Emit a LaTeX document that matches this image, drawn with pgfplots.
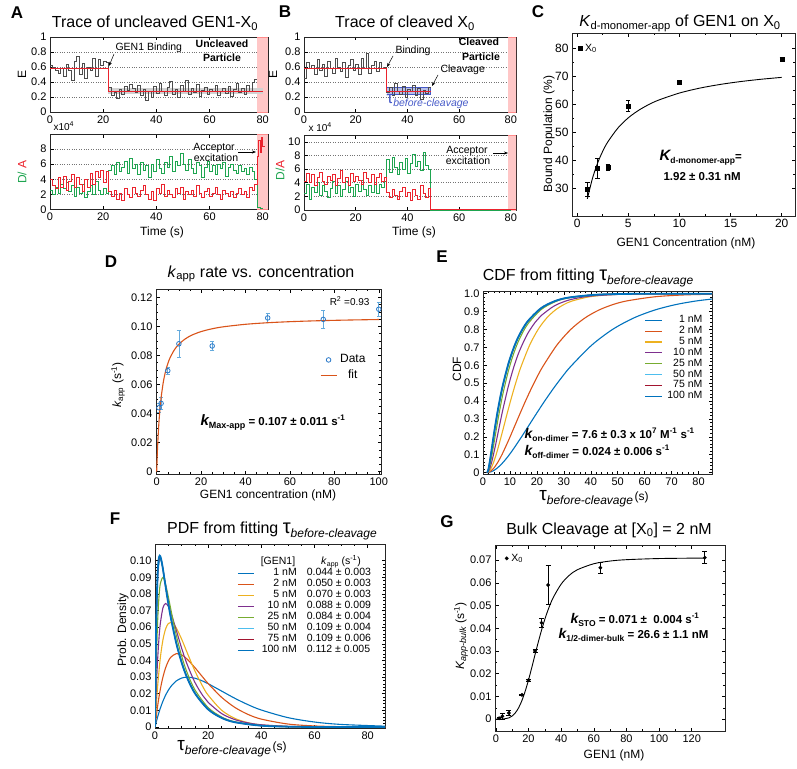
\documentclass[border=0pt]{standalone}
\usepackage{pgfplots}
\pgfplotsset{compat=1.18}
\usepackage{fontspec}
\setmainfont{Liberation Sans}
\usetikzlibrary{arrows.meta}
\definecolor{mblue}{rgb}{0,0.447,0.741}
\definecolor{morange}{rgb}{0.85,0.325,0.098}
\definecolor{myellow}{rgb}{0.929,0.694,0.125}
\definecolor{mpurple}{rgb}{0.494,0.184,0.556}
\definecolor{mgreen}{rgb}{0.466,0.674,0.188}
\definecolor{mcyan}{rgb}{0.301,0.745,0.933}
\definecolor{mdred}{rgb}{0.635,0.078,0.184}
\definecolor{trgreen}{RGB}{30,165,80}
\definecolor{trred}{RGB}{235,35,45}
\definecolor{taublue}{RGB}{70,90,200}
\definecolor{errblue}{RGB}{100,170,220}
\definecolor{ptblue}{RGB}{40,120,200}
\newcommand{\fsz}[1]{\fontsize{#1}{#1}\selectfont}
\pgfplotsset{
  mybase/.style={
    scale only axis, anchor=south west, clip=true,
    axis line style={line width=0.6pt, black!85},
    tick style={line width=0.5pt, black},
    major tick length=3.5pt, minor tick length=2pt,
    tick align=inside,
    scaled ticks=false,
    tick label style={font=\fsz{11}},
    /pgf/number format/assume math mode=true,
    legend style={draw=none, fill=none, inner sep=0pt, outer sep=0pt},
  },
  trace/.style={mybase, ymajorgrids, grid style={dotted, black!55, line width=0.5pt}, xtick={0,20,40,60,80}, xmin=0, xmax=82},
  frame/.style={mybase, minor x tick num=3, minor y tick num=3},
}
\begin{document}
\begin{tikzpicture}
\useasboundingbox (0pt,0pt) rectangle (797pt,-768pt);

% ================= A top
\begin{axis}[trace, at={(50pt,-112pt)}, width=218pt, height=75pt, ymin=0, ymax=1, ytick={0,0.2,0.4,0.6,0.8,1}, yticklabels={0,0.2,0.4,0.6,0.8,1}]
\addplot[fill=red!22, draw=red!45] coordinates {(78,0)(82,0)(82,1)(78,1)};
\addplot[fill=gray!35, draw=none] coordinates {(22,0.245)(80,0.245)(80,0.315)(22,0.315)};
\addplot[const plot, color=black!70, line width=0.6pt] coordinates {
(0,0.62)(1,0.60)(2,0.55)(3,0.52)(4,0.58)(5,0.47)(6,0.64)(7,0.55)(8,0.42)(9,0.68)(10,0.74)(11,0.50)(12,0.65)(13,0.45)(14,0.60)(15,0.56)(16,0.72)(17,0.48)(18,0.70)(19,0.62)(20,0.68)(21,0.66)
(22,0.33)(23,0.22)(24,0.26)(25,0.18)(26,0.30)(27,0.24)(28,0.34)(29,0.29)(30,0.37)(31,0.31)
(32,0.26)(33,0.35)(34,0.22)(35,0.30)(36,0.15)(37,0.28)(38,0.20)(39,0.34)(40,0.25)(41,0.38)
(42,0.27)(43,0.22)(44,0.33)(45,0.41)(46,0.24)(47,0.30)(48,0.19)(49,0.36)(50,0.27)(51,0.42)
(52,0.23)(53,0.31)(54,0.26)(55,0.37)(56,0.21)(57,0.29)(58,0.33)(59,0.24)(60,0.30)(61,0.27)
(62,0.35)(63,0.22)(64,0.28)(65,0.32)(66,0.25)(67,0.34)(68,0.21)(69,0.30)(70,0.38)(71,0.26)
(72,0.31)(73,0.23)(74,0.35)(75,0.28)(76,0.40)(77,0.44)(78,0.44)};
\addplot[trred, line width=0.9pt] coordinates {(0,0.58)(22,0.58)(22,0.28)(80,0.28)};
\end{axis}

% ================= A bottom
\begin{axis}[trace, at={(50pt,-209.5pt)}, width=218pt, height=75.5pt, ymin=0, ymax=10, ytick={0,2,4,6,8}]
\addplot[fill=red!22, draw=red!45] coordinates {(78,0)(82,0)(82,10)(78,10)};
\addplot[const plot, trgreen, line width=0.6pt] coordinates {
(0,2.5)(1,2.0)(2,3.0)(3,2.2)(4,3.4)(5,2.8)(6,3.6)(7,2.4)(8,3.2)(9,1.8)(10,3.0)(11,2.2)(12,3.4)(13,1.6)(14,2.4)(15,3.2)(16,2.0)(17,3.8)(18,2.6)(19,2.0)(20,2.8)(21,2.2)
(22,5.2)(23,5.8)(24,4.6)(25,6.2)(26,5.0)(27,5.6)(28,6.4)(29,4.8)(30,6.8)(31,5.4)
(32,6.0)(33,4.6)(34,6.2)(35,5.2)(36,5.8)(37,4.2)(38,6.0)(39,5.0)(40,6.6)(41,5.4)
(42,4.8)(43,6.2)(44,5.6)(45,7.0)(46,5.0)(47,6.4)(48,5.8)(49,7.4)(50,6.0)(51,5.2)
(52,6.6)(53,5.4)(54,4.8)(55,6.2)(56,5.8)(57,4.2)(58,5.6)(59,6.4)(60,5.0)(61,5.8)
(62,4.6)(63,6.0)(64,5.4)(65,6.2)(66,4.4)(67,5.6)(68,6.0)(69,5.2)(70,4.8)(71,5.8)
(72,5.0)(73,5.4)(74,4.6)(75,5.6)(76,5.0)(77,4.0)(78,0.3)(79,0.1)(80,0.1)};
\addplot[const plot, trred, line width=0.6pt] coordinates {
(0,4.0)(1,3.2)(2,2.8)(3,4.2)(4,3.0)(5,4.4)(6,2.6)(7,3.8)(8,4.6)(9,3.0)(10,4.2)(11,3.4)(12,2.4)(13,4.0)(14,3.0)(15,4.8)(16,3.4)(17,5.0)(18,4.2)(19,5.2)(20,3.6)(21,5.0)
(22,2.4)(23,1.8)(24,2.6)(25,1.4)(26,2.2)(27,1.2)(28,2.8)(29,2.0)(30,1.6)(31,3.0)
(32,2.2)(33,1.8)(34,2.6)(35,3.2)(36,2.0)(37,1.4)(38,2.4)(39,1.2)(40,2.8)(41,2.2)
(42,3.4)(43,1.8)(44,2.6)(45,2.0)(46,1.6)(47,2.8)(48,2.2)(49,3.0)(50,1.4)(51,2.4)
(52,2.0)(53,2.6)(54,1.8)(55,3.2)(56,2.2)(57,1.6)(58,2.4)(59,2.8)(60,1.8)(61,2.2)
(62,3.0)(63,2.0)(64,1.4)(65,2.6)(66,2.2)(67,1.8)(68,2.4)(69,1.6)(70,2.2)(71,2.8)
(72,2.0)(73,2.4)(74,1.6)(75,3.0)(76,2.6)(77,3.4)(78,7.0)(78.5,9.2)(79,7.6)(79.5,9.6)(80,8.4)(81,8.4)};
\end{axis}

% ================= B top
\begin{axis}[trace, at={(304pt,-112pt)}, width=212pt, height=75pt, ymin=0, ymax=1, ytick={0,0.2,0.4,0.6,0.8,1}, yticklabels={0,0.2,0.4,0.6,0.8,1}]
\addplot[fill=red!22, draw=red!45] coordinates {(79,0)(82,0)(82,1)(79,1)};
\addplot[fill=taublue!55, draw=taublue, fill opacity=0.7] coordinates {(32,0.24)(49,0.24)(49,0.33)(32,0.33)};
\addplot[const plot, color=black!70, line width=0.6pt] coordinates {
(0,0.45)(1,0.66)(2,0.58)(3,0.62)(4,0.50)(5,0.70)(6,0.55)(7,0.64)(8,0.48)(9,0.68)
(10,0.58)(11,0.52)(12,0.72)(13,0.60)(14,0.54)(15,0.66)(16,0.46)(17,0.62)(18,0.70)(19,0.56)
(20,0.64)(21,0.50)(22,0.72)(23,0.58)(24,0.78)(25,0.52)(26,0.62)(27,0.68)(28,0.54)(29,0.66)
(30,0.58)(31,0.60)
(32,0.26)(33,0.33)(34,0.22)(35,0.38)(36,0.28)(37,0.24)(38,0.34)(39,0.20)(40,0.30)(41,0.27)(42,0.36)(43,0.22)(44,0.31)(45,0.17)(46,0.29)(47,0.25)(48,0.33)(49,0.33)};
\addplot[trred, line width=0.9pt] coordinates {(0,0.575)(32,0.575)(32,0.275)(49,0.275)};
\end{axis}

% ================= B bottom
\begin{axis}[trace, at={(304pt,-210.7pt)}, width=212pt, height=75.7pt, ymin=-0.1, ymax=11, ytick={0,2,4,6,8,10}]
\addplot[fill=red!22, draw=red!45] coordinates {(79,-0.1)(82,-0.1)(82,11)(79,11)};
\addplot[const plot, trgreen, line width=0.6pt] coordinates {
(0,2.4)(1,3.8)(2,1.6)(3,3.4)(4,2.6)(5,4.0)(6,2.2)(7,3.6)(8,2.8)(9,1.8)
(10,3.2)(11,4.2)(12,2.4)(13,3.6)(14,2.0)(15,3.0)(16,4.2)(17,2.6)(18,3.4)(19,2.0)
(20,3.8)(21,2.8)(22,4.4)(23,3.0)(24,2.2)(25,3.6)(26,2.6)(27,4.0)(28,2.4)(29,3.8)
(30,3.4)(31,4.2)
(32,7.4)(33,5.6)(34,7.8)(35,6.2)(36,5.2)(37,7.0)(38,6.0)(39,7.6)(40,5.4)(41,6.8)(42,8.2)(43,6.4)(44,7.2)(45,5.8)(46,8.4)(47,6.6)(48,6.0)(49,0)(80,0)};
\addplot[const plot, trred, line width=0.6pt] coordinates {
(0,4.2)(1,5.4)(2,4.0)(3,5.2)(4,3.6)(5,4.8)(6,5.6)(7,4.2)(8,3.8)(9,5.0)
(10,4.4)(11,5.2)(12,3.6)(13,4.6)(14,5.8)(15,4.0)(16,4.8)(17,3.6)(18,5.4)(19,4.2)
(20,5.0)(21,4.4)(22,3.8)(23,5.6)(24,4.6)(25,4.0)(26,5.2)(27,3.8)(28,4.8)(29,5.4)
(30,4.2)(31,4.8)
(32,2.6)(33,1.8)(34,3.0)(35,2.2)(36,1.6)(37,2.8)(38,3.4)(39,2.0)(40,2.6)(41,1.4)(42,3.0)(43,2.2)(44,1.6)(45,3.6)(46,2.4)(47,1.8)(48,3.2)(49,0.08)(82,0.08)};
\end{axis}

% ================= C
\begin{axis}[mybase, at={(572pt,-216pt)}, width=223pt, height=183pt, xmin=-0.5, xmax=21.3, ymin=20, ymax=85.5,
  xtick={0,5,10,15,20}, ytick={30,40,50,60,70,80}, minor x tick num=1, minor y tick num=1,
  tick label style={font=\fsz{12}},
  legend style={at={(0.027,0.951)}, anchor=north west, font=\fsz{10.5}, column sep=1pt},
  legend image code/.code={\draw[mark repeat=2,mark phase=2,#1] plot coordinates {(0pt,0pt)(6pt,0pt)(12pt,0pt)};}]
\addplot[only marks, mark=square*, mark size=2pt, black,
  error bars/.cd, y dir=both, y explicit, error bar style={line width=0.7pt, black}, error mark options={rotate=90, mark size=2.2pt, line width=0.7pt, black}]
  coordinates {(1,29.5) +- (0,2.5) (2,37) +- (0,3.5) (3,37.5) +- (0,1) (5,59.3) +- (0,2) (10,67.8) +- (0,0.8) (20,76.3) +- (0,0.5)};
\addlegendentry{X\textsubscript{0}}
\addplot[black, line width=0.9pt, smooth, forget plot] coordinates {(1,26.13)(1.5,33.46)(2,38.93)(2.5,43.16)(3,46.52)(4,51.55)(5,55.13)(6,57.80)(7,59.88)(8,61.53)(10,64.01)(12,65.78)(14,67.10)(16,68.13)(18,68.95)(20,69.62)};
\end{axis}

% ================= D
\begin{axis}[frame, at={(156pt,-474pt)}, width=225pt, height=185pt, xmin=-0.3, xmax=101, ymin=-0.0016, ymax=0.1257,
  xtick={0,20,40,60,80,100}, ytick={0,0.02,0.04,0.06,0.08,0.10,0.12}, yticklabels={0,0.02,0.04,0.06,0.08,0.10,0.12},
  legend style={at={(0.729,0.649)}, anchor=north west, font=\fsz{12}, column sep=3pt, row sep=4pt, nodes={inner sep=0pt, text height=9pt, text depth=3pt}},
  legend image code/.code={\draw[mark repeat=2,mark phase=2,#1] plot coordinates {(0pt,0pt)(8pt,0pt)(16pt,0pt)};}]
\addplot[only marks, mark=o, mark size=2.3pt, color=ptblue, mark options={line width=0.8pt},
  error bars/.cd, y dir=both, y explicit, error bar style={errblue, line width=0.7pt}, error mark options={rotate=90, errblue, mark size=2.2pt, line width=0.7pt}]
  coordinates {(1,0.044) +- (0,0.003) (2,0.047) +- (0,0.004) (5,0.0695) +- (0,0.0025) (10,0.088) +- (0,0.0095) (25,0.0865) +- (0,0.003) (50,0.1058) +- (0,0.003) (75,0.1048) +- (0,0.006) (100,0.1118) +- (0,0.005)};
\addlegendentry{Data}
\addplot[morange, line width=1.1pt, smooth] coordinates {(0,0)(0.25,0.01092)(0.5,0.01981)(1,0.03344)(1.5,0.04338)(2,0.05095)(3,0.06173)(4,0.06903)(5,0.07431)(6,0.07829)(8,0.08392)(10,0.0877)(13,0.09151)(16,0.09407)(20,0.0964)(25,0.09835)(30,0.09969)(40,0.10142)(50,0.10249)(60,0.10322)(70,0.10374)(80,0.10414)(90,0.10445)(100,0.1047)};
\addlegendentry{fit}
\end{axis}

% ================= E
\begin{axis}[mybase, at={(483pt,-474pt)}, width=229pt, height=183pt, xmin=0, xmax=85, ymin=-0.008, ymax=1.015,
  xtick={0,10,20,30,40,50,60,70,80}, ytick={0,0.1,0.2,0.3,0.4,0.5,0.6,0.7,0.8,0.9,1.0}, yticklabels={0,0.1,0.2,0.3,0.4,0.5,0.6,0.7,0.8,0.9,1.0},
  minor x tick num=4, minor y tick num=4,
  legend style={at={(0.958,0.87)}, anchor=north east, font=\fsz{10.5}, column sep=4pt, nodes={inner sep=0pt, text height=7.8pt, text depth=3.1pt}},
  legend cell align=right,
  legend image code/.code={\draw[#1] (0pt,0pt) -- (17pt,0pt);}]
\addplot[mblue, line width=1.1pt, smooth] coordinates {(1.5,0)(3.06,0.00468)(4.61,0.01752)(6.17,0.03694)(7.72,0.06155)(9.28,0.0902)(10.83,0.1219)(13.94,0.1912)(17.05,0.2642)(20.16,0.3374)(23.27,0.4082)(26.38,0.4751)(29.49,0.5372)(32.60,0.5940)(40.38,0.7127)(48.16,0.8009)(55.93,0.8641)(63.71,0.9084)(71.48,0.9389)(79.26,0.9596)(87.04,0.9734)};
\addlegendentry{1 nM}
\addplot[morange, line width=1.1pt, smooth] coordinates {(1.5,0)(2.54,0.00468)(3.57,0.01752)(4.61,0.03694)(5.65,0.06155)(6.69,0.0902)(7.72,0.1219)(9.80,0.1912)(11.87,0.2642)(13.95,0.3374)(16.02,0.4082)(18.10,0.4751)(20.17,0.5372)(22.25,0.5940)(27.43,0.7127)(32.62,0.8009)(37.81,0.8641)(42.99,0.9084)(48.18,0.9389)(53.37,0.9596)(63.74,0.9826)(74.11,0.9927)(84.48,0.9970)(90,0.9985)};
\addlegendentry{2 nM}
\addplot[myellow, line width=1.1pt, smooth] coordinates {(1.5,0)(2.13,0.00468)(2.77,0.01752)(3.40,0.03694)(4.03,0.06155)(4.66,0.0902)(5.30,0.1219)(6.56,0.1912)(7.83,0.2642)(9.09,0.3374)(10.36,0.4082)(11.63,0.4751)(12.89,0.5372)(14.16,0.5940)(17.32,0.7127)(20.49,0.8009)(23.65,0.8641)(26.82,0.9084)(29.98,0.9389)(33.15,0.9596)(39.47,0.9826)(45.80,0.9927)(52.13,0.9970)(64.79,0.9995)(87,1.0)};
\addlegendentry{5 nM}
\addplot[mpurple, line width=1.1pt, smooth] coordinates {(1.5,0)(2.0,0.00615)(2.5,0.02243)(3.0,0.04614)(3.5,0.07516)(4.5,0.1429)(5.5,0.2163)(6.5,0.2900)(7.5,0.3607)(9.5,0.4878)(11.5,0.5933)(13.5,0.6786)(16.5,0.7750)(19.5,0.8428)(21.5,0.8763)(26.5,0.9321)(31.5,0.9627)(36.5,0.9796)(41.5,0.9888)(51.5,0.99662)(61.5,0.99898)(86.5,0.99995)};
\addlegendentry{10 nM}
\addplot[mgreen, line width=1.1pt, smooth] coordinates {(1.5,0)(2.0,0.01057)(2.5,0.03683)(3.0,0.07271)(3.5,0.1141)(4.5,0.2031)(5.5,0.2913)(6.5,0.3734)(7.5,0.4478)(9.5,0.5730)(11.5,0.6705)(13.5,0.7458)(16.5,0.8279)(21.5,0.9102)(26.5,0.9531)(31.5,0.9755)(41.5,0.9933)(51.5,0.99818)(61.5,0.9995)(86.5,1.0)};
\addlegendentry{25 nM}
\addplot[mcyan, line width=1.1pt, smooth] coordinates {(1.5,0)(1.75,0.0047)(2.0,0.01683)(2.5,0.05461)(3.0,0.1016)(3.5,0.1515)(4.0,0.2015)(4.5,0.2500)(5.5,0.3400)(6.5,0.4201)(7.5,0.4907)(9.5,0.6073)(11.5,0.6972)(13.5,0.7665)(16.5,0.8419)(21.5,0.9175)(26.5,0.9569)(31.5,0.9775)(41.5,0.99387)(51.5,0.99833)(61.5,0.99954)(86.5,1.0)};
\addlegendentry{50 nM}
\addplot[mdred, line width=1.1pt, smooth] coordinates {(1.5,0)(1.75,0.00502)(2.0,0.01785)(2.5,0.05726)(3.0,0.1055)(3.5,0.1562)(4.0,0.2066)(4.5,0.2552)(5.5,0.3450)(6.5,0.4246)(7.5,0.4947)(9.5,0.6104)(11.5,0.6996)(13.5,0.7683)(16.5,0.8432)(21.5,0.9181)(26.5,0.9573)(31.5,0.9777)(41.5,0.99392)(51.5,0.99834)(61.5,0.99955)(86.5,1.0)};
\addlegendentry{75 nM}
\addplot[mblue, line width=1.8pt, smooth] coordinates {(1.5,0)(1.75,0.00534)(2.0,0.01884)(2.5,0.05975)(3.0,0.1091)(3.5,0.1605)(4.0,0.2111)(4.5,0.2597)(5.5,0.3493)(6.5,0.4285)(7.5,0.4981)(9.5,0.6130)(11.5,0.7016)(13.5,0.7699)(16.5,0.8442)(21.5,0.9187)(26.5,0.9575)(31.5,0.9778)(41.5,0.99396)(51.5,0.99835)(61.5,0.99955)(86.5,1.0)};
\addlegendentry{100 nM}
\end{axis}

% ================= F
\begin{axis}[mybase, at={(155pt,-728pt)}, width=230pt, height=184pt, xmin=0, xmax=86.5, ymin=-0.0006, ymax=0.110,
  xtick={0,20,40,60,80}, ytick={0,0.01,0.02,0.03,0.04,0.05,0.06,0.07,0.08,0.09,0.10}, yticklabels={0,0.01,0.02,0.03,0.04,0.05,0.06,0.07,0.08,0.09,0.10},
  minor x tick num=3, minor y tick num=4,
  legend style={at={(0.3565,0.872)}, anchor=north west, font=\fsz{10.5}, column sep=6pt, nodes={inner sep=0pt, text height=7.9pt, text depth=3.15pt}},
  legend cell align=left,
  legend image code/.code={\draw[#1] (0pt,0pt) -- (16pt,0pt);}]
\addplot[mblue, line width=1.1pt, smooth] coordinates {(0,0)(1,0.006122)(2,0.011286)(3,0.015604)(4,0.019177)(5,0.022096)(6,0.024439)(8,0.027684)(10,0.0294)(12,0.029974)(15,0.02934)(18,0.027572)(20,0.026027)(25,0.021645)(30,0.017281)(35,0.013414)(40,0.010199)(50,0.005643)(60,0.002997)(70,0.001548)(87,0.00048)};
\addlegendentry{\makebox[36pt][r]{1 nM}\hspace{10pt}0.044 ± 0.003}
\addplot[morange, line width=1.1pt, smooth] coordinates {(0,0)(1,0.012772)(2,0.022655)(3,0.03014)(4,0.035642)(5,0.039514)(6,0.042055)(8,0.044109)(10,0.043371)(12,0.040942)(15,0.035705)(18,0.029894)(20,0.026127)(25,0.017923)(30,0.011804)(35,0.007558)(40,0.00474)(50,0.001785)(60,0.000645)(70,0.000227)(87,0.00004)};
\addlegendentry{\makebox[36pt][r]{2 nM}\hspace{10pt}0.050 ± 0.003}
\addplot[myellow, line width=1.1pt, smooth] coordinates {(0,0)(0.5,0.013422)(1,0.024645)(2,0.041543)(3,0.05252)(4,0.05902)(5,0.06218)(6,0.062887)(7,0.061836)(8,0.059563)(10,0.052888)(12,0.045083)(15,0.033738)(18,0.024238)(20,0.019131)(25,0.01017)(30,0.00519)(35,0.002575)(40,0.001252)(50,0.000283)(60,0.0000614)(87,0)};
\addlegendentry{\makebox[36pt][r]{5 nM}\hspace{10pt}0.070 ± 0.003}
\addplot[mpurple, line width=1.1pt, smooth] coordinates {(0,0)(0.5,0.023439)(1,0.040793)(1.5,0.053363)(2,0.062192)(3,0.071745)(4,0.074206)(5,0.072558)(6,0.068652)(8,0.058184)(10,0.047468)(12,0.038031)(15,0.026858)(18,0.018823)(20,0.014825)(25,0.008145)(30,0.004471)(35,0.002454)(40,0.001347)(50,0.000406)(60,0.000122)(87,0.000004)};
\addlegendentry{\makebox[36pt][r]{10 nM}\hspace{10pt}0.088 ± 0.009}
\addplot[mgreen, line width=1.1pt, smooth] coordinates {(0,0)(0.5,0.039278)(1,0.063804)(1.5,0.078343)(2,0.086165)(3,0.089898)(4,0.085663)(5,0.078398)(6,0.070342)(8,0.055193)(10,0.042771)(12,0.033027)(15,0.022371)(20,0.01168)(25,0.006098)(30,0.003183)(40,0.000868)(50,0.000236)(60,0.0000644)(87,0)};
\addlegendentry{\makebox[36pt][r]{25 nM}\hspace{10pt}0.084 ± 0.004}
\addplot[mcyan, line width=1.1pt, smooth] coordinates {(0,0)(0.25,0.03546)(0.5,0.059946)(1,0.087471)(1.5,0.098303)(2,0.100646)(2.5,0.098765)(3,0.094874)(4,0.085078)(5,0.07519)(6,0.066155)(8,0.051049)(10,0.039366)(12,0.030354)(15,0.02055)(20,0.010728)(25,0.005601)(30,0.002924)(40,0.000797)(50,0.000217)(60,0.0000592)(87,0)};
\addlegendentry{\makebox[36pt][r]{50 nM}\hspace{10pt}0.109 ± 0.004}
\addplot[mdred, line width=1.1pt, smooth] coordinates {(0,0)(0.25,0.037737)(0.5,0.063123)(1,0.090498)(1.5,0.100368)(2,0.101782)(2.5,0.099216)(3,0.094878)(4,0.084668)(5,0.074683)(6,0.065662)(8,0.050652)(10,0.039056)(12,0.030115)(15,0.020388)(20,0.010644)(25,0.005557)(30,0.002901)(40,0.000791)(50,0.000215)(60,0.0000587)(87,0)};
\addlegendentry{\makebox[36pt][r]{75 nM}\hspace{10pt}0.109 ± 0.006}
\addplot[mblue, line width=1.8pt, smooth] coordinates {(0,0)(0.25,0.039958)(0.5,0.066142)(1,0.093226)(1.5,0.102116)(2,0.102661)(2.5,0.099494)(3,0.094789)(4,0.084268)(5,0.074228)(6,0.065231)(8,0.050308)(10,0.038791)(12,0.029911)(15,0.02025)(20,0.010572)(25,0.005519)(30,0.002881)(40,0.000785)(50,0.000214)(60,0.0000583)(87,0)};
\addlegendentry{\makebox[36pt][r]{100 nM}\hspace{10pt}0.112 ± 0.005}
\end{axis}

% ================= G
\begin{axis}[mybase, at={(495pt,-731pt)}, width=230pt, height=186pt, xmin=-0.5, xmax=140.4, ymin=-0.0052, ymax=0.0766,
  xtick={0,20,40,60,80,100,120}, ytick={0,0.01,0.02,0.03,0.04,0.05,0.06,0.07}, yticklabels={0,0.01,0.02,0.03,0.04,0.05,0.06,0.07},
  minor x tick num=1, minor y tick num=1,
  legend style={at={(0.0435,0.962)}, anchor=north west, font=\fsz{10.5}, column sep=1pt},
  legend image code/.code={\draw[mark repeat=2,mark phase=2,#1] plot coordinates {(0pt,0pt)(6pt,0pt)(12pt,0pt)};}]
\addplot[only marks, mark=*, mark size=1.7pt, black,
  error bars/.cd, y dir=both, y explicit, error bar style={line width=0.7pt, black}, error mark options={rotate=90, mark size=2.5pt, line width=0.7pt, black}]
  coordinates {(2,0.0004) +- (0,0.0004) (4,0.0013) +- (0,0.0012) (8,0.0027) +- (0,0.0011) (16,0.0107) +- (0,0.0004) (20,0.0172) +- (0,0.0005) (24,0.0300) +- (0,0.0008) (28,0.0424) +- (0,0.0021) (32,0.059) +- (0,0.0087) (64,0.0666) +- (0,0.0025) (128,0.0710) +- (0,0.0026)};
\addlegendentry{X\textsubscript{0}}
\addplot[black, line width=0.9pt, smooth, forget plot] coordinates {(0,0)(4,0.0000363)(8,0.000576)(10,0.00139)(12,0.002824)(14,0.00506)(16,0.008218)(18,0.012307)(20,0.017195)(22,0.022632)(24,0.028299)(26,0.03388)(28,0.039129)(30,0.043881)(32,0.048056)(35,0.053239)(40,0.059386)(45,0.063275)(50,0.065735)(60,0.068359)(70,0.06955)(80,0.070143)(100,0.070646)(128,0.070868)};
\end{axis}

% ================= text
\begin{scope}[x=1pt,y=-1pt]
\foreach \l/\x/\y in {A/17/13, B/285/12, C/538/12, D/111/262, E/442/257, F/115/519, G/447/522}
  \node[font=\fsz{17}\bfseries] at (\x,\y) {\l};
\node[anchor=base, font=\fsz{16}] at (155,28) {Trace of uncleaved GEN1-X\textsubscript{0}};
\node[anchor=base, font=\fsz{16}] at (405,28) {Trace of cleaved X\textsubscript{0}};
\node[anchor=base, font=\fsz{16}] at (680,27) {\textit{K}\textsubscript{d-monomer-app} of GEN1 on X\textsubscript{0}};
\node[anchor=base, font=\fsz{16}] at (261,277) {\textit{k}\textsubscript{app} rate vs. concentration};
\node[anchor=base, font=\fsz{16}] at (588,280) {CDF from fitting {\fsz{20}τ}\raisebox{-4pt}{\fsz{12}\itshape before-cleavage}};
\node[anchor=base, font=\fsz{16}] at (272,533) {PDF from fitting {\fsz{20}τ}\raisebox{-4pt}{\fsz{12}\itshape before-cleavage}};
\node[anchor=base, font=\fsz{16}] at (609,534) {Bulk Cleavage at [X\textsubscript{0}] = 2 nM};
\node[anchor=base, font=\fsz{12}] at (162,235) {Time (s)};
\node[anchor=base, font=\fsz{12}] at (414,235) {Time (s)};
\node[rotate=90, font=\fsz{12}] at (22,74) {E};
\node[rotate=90, font=\fsz{12}] at (22,172) {\textcolor{trgreen}{D/} \textcolor{trred}{A}};
\node[rotate=90, font=\fsz{12}] at (273,74) {E};
\node[rotate=90, font=\fsz{12}] at (280,170) {\textcolor{trgreen}{D/}\textcolor{trred}{A}};
\node[anchor=base west, font=\fsz{10}] at (50,130) {x10\textsuperscript{4}};
\node[anchor=base west, font=\fsz{10}] at (305,131) {x 10\textsuperscript{4}};
\node[anchor=base west, font=\fsz{10.5}] at (112,51) {GEN1 Binding};
\draw[-{Stealth[length=4pt,width=3pt]}, line width=0.5pt] (114,54) -- (109,66);
\node[anchor=base, font=\fsz{10.5}\bfseries] at (222,48) {Uncleaved};
\node[anchor=base, font=\fsz{10.5}\bfseries] at (222,61) {Particle};
\node[anchor=base, font=\fsz{10.5}] at (214,150) {Acceptor};
\node[anchor=base, font=\fsz{10.5}] at (216,161) {excitation};
\draw[-{Stealth[length=4pt,width=3pt]}, line width=0.5pt] (238,152) -- (256,152);
\node[anchor=base west, font=\fsz{10.5}] at (392,53) {Binding};
\draw[-{Stealth[length=4pt,width=3pt]}, line width=0.5pt] (393,56) -- (387,67);
\node[anchor=base, font=\fsz{10.5}\bfseries] at (479,46) {Cleaved};
\node[anchor=base, font=\fsz{10.5}\bfseries] at (481,60) {Particle};
\node[anchor=base west, font=\fsz{10.5}] at (437,72) {Cleavage};
\draw[-{Stealth[length=4pt,width=3pt]}, line width=0.5pt] (438,75) -- (432,86);
\node[anchor=base west, text=taublue] at (383,103) {{\fsz{17}τ}\raisebox{-3pt}{\fsz{10.5}\itshape before-cleavage}};
\node[anchor=base, font=\fsz{10.5}] at (467,153) {Acceptor};
\node[anchor=base, font=\fsz{10.5}] at (468,164) {excitation};
\draw[-{Stealth[length=4pt,width=3pt]}, line width=0.5pt] (493,153) -- (508,153);
\node[anchor=base, font=\fsz{12}] at (686,246) {GEN1 Concentration (nM)};
\node[rotate=90, font=\fsz{12}] at (549,134) {Bound Population (\%)};
\node[anchor=base west] at (656,160) {{\fsz{15}\bfseries\itshape K}\raisebox{-3pt}{\fsz{8.5}\bfseries d-monomer-app}{\fsz{11.5}\bfseries =}};
\node[anchor=base west, font=\fsz{11.5}\bfseries] at (660,180) {1.92 ± 0.31 nM};
\node[anchor=base, font=\fsz{12}] at (268,498) {GEN1 concentration (nM)};
\node[rotate=90, font=\fsz{12}] at (118,385) {\textit{k}\textsubscript{app} (s\textsuperscript{-1})};
\node[anchor=base east, font=\fsz{10}] at (373,305) {R\textsuperscript{2} =0.93};
\node[anchor=base west] at (197,425) {{\fsz{15}\bfseries\itshape k}\raisebox{-3pt}{\fsz{9}\bfseries Max-app}{\fsz{11.5}\bfseries{} = 0.107 ± 0.011 s\textsuperscript{-1}}};
\node[rotate=90, font=\fsz{12}] at (457,369) {CDF};
\node[anchor=base] at (594,500) {{\fsz{19}τ}\raisebox{-4pt}{\fsz{12}\itshape before-cleavage}\,{\fsz{12}(s)}};
\node[anchor=base west] at (521,438) {{\fsz{14}\bfseries\itshape k}\raisebox{-3pt}{\fsz{8.5}\bfseries on-dimer}{\fsz{11.5}\bfseries{} = 7.6 ± 0.3 x 10\textsuperscript{7} M\textsuperscript{-1} s\textsuperscript{-1}}};
\node[anchor=base west] at (521,455) {{\fsz{14}\bfseries\itshape k}\raisebox{-3pt}{\fsz{8.5}\bfseries off-dimer}{\fsz{11.5}\bfseries{} = 0.024 ± 0.006 s\textsuperscript{-1}}};
\node[rotate=90, font=\fsz{12}] at (123,630) {Prob. Density};
\node[anchor=base] at (232,750) {{\fsz{19}τ}\raisebox{-4pt}{\fsz{12}\itshape before-cleavage}\,{\fsz{12}(s)}};
\node[anchor=base, font=\fsz{10.5}] at (278,564) {[GEN1]};
\node[anchor=base, font=\fsz{10.5}] at (341,564) {\textit{k}\raisebox{-2pt}{\fsz{7}app} (s\textsuperscript{-1})};
\node[anchor=base, font=\fsz{12}] at (614,758) {GEN1 (nM)};
\node[rotate=90, font=\fsz{12}] at (461,636) {\textit{K}\raisebox{-2pt}{\fsz{9}\itshape app-bulk} (s\textsuperscript{-1})};
\node[anchor=base west] at (567,623) {{\fsz{14}\bfseries\itshape k}\raisebox{-3pt}{\fsz{8.5}\bfseries STO}{\fsz{11.5}\bfseries{} = 0.071 ±\ \ 0.004 s\textsuperscript{-1}}};
\node[anchor=base west] at (555,638) {{\fsz{14}\bfseries\itshape k}\raisebox{-3pt}{\fsz{8.5}\bfseries 1/2-dimer-bulk}{\fsz{11.5}\bfseries{} = 26.6 ± 1.1 nM}};
\end{scope}
\end{tikzpicture}
\end{document}
